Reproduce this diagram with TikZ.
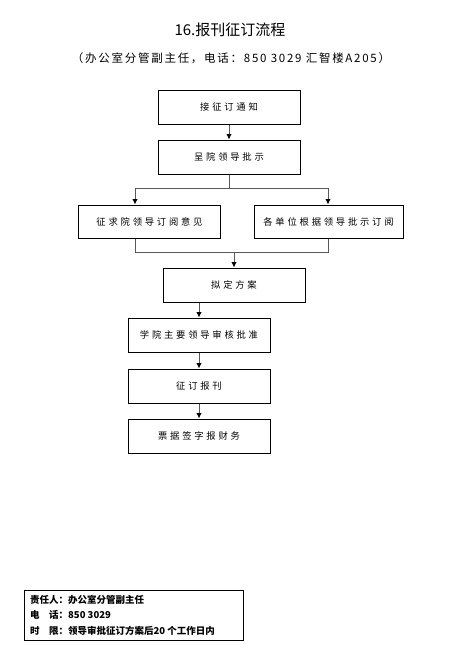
\documentclass[tikz,border=0pt]{standalone}
\usepackage{fontspec}
\usetikzlibrary{arrows.meta}
\setmainfont{Noto Sans CJK SC}
\newfontfamily\boxfont[LetterSpace=30]{Noto Sans CJK SC}
\newfontfamily\subfont[LetterSpace=15]{Noto Sans CJK SC}
\tikzset{
  stepbox/.style={draw, line width=1pt, minimum width=142pt, minimum height=34pt,
    inner sep=2pt, font=\boxfont\fontsize{9.3}{11}\selectfont},
  link/.style={line width=1pt, draw=black!65, -{Latex[length=5.5pt,width=5.5pt,black]}},
  line/.style={line width=1pt, draw=black!65},
  infotext/.style={anchor=west, inner sep=0pt, font=\bfseries\fontsize{9.5}{11}\selectfont},
}
\begin{document}
\begin{tikzpicture}[x=1pt, y=-1pt]
  \useasboundingbox (0,0) rectangle (462,649);
  % title
  \node[font=\fontsize{15}{17}\selectfont] (title) at (230,30) {16.报刊征订流程};
  \node[font=\subfont\fontsize{11.5}{13}\selectfont] (sub) at (231,58)
    {（办公室分管副主任，电话：850 3029 汇智楼A205）};
  % steps
  \node[stepbox] (b1) at (229,107) {接征订通知};
  \node[stepbox] (b2) at (229,157) {呈院领导批示};
  \node[stepbox, minimum height=33pt] (b3) at (149.5,221.5) {征求院领导订阅意见};
  \node[stepbox, minimum height=33pt, minimum width=149pt] (b4) at (328.5,221.5) {各单位根据领导批示订阅};
  \node[stepbox] (b5) at (234,285) {拟定方案};
  \node[stepbox] (b6) at (199,335) {学院主要领导审核批准};
  \node[stepbox] (b7) at (199,386) {征订报刊};
  \node[stepbox] (b8) at (199,436) {票据签字报财务};
  % branch and merge points
  \coordinate (sl) at (135,188);
  \coordinate (sr) at (328,188);
  \coordinate (ml) at (135,252);
  \coordinate (mr) at (328,252);
  % connectors
  \draw[link] (b1) -- (b2);
  \draw[line] (b2.south) -- (b2.south |- sl);
  \draw[line] (sl) -- (sr);
  \draw[link] (sl) -- (sl |- b3.north);
  \draw[link] (sr) -- (sr |- b4.north);
  \draw[line] (sl |- b3.south) -- (ml) -- (mr) -- (sr |- b4.south);
  \draw[link] (b5.north |- ml) -- (b5.north);
  \draw[link] (b5.south -| b6.north) -- (b6.north);
  \draw[link] (b6) -- (b7);
  \draw[link] (b7) -- (b8);
  % info box
  \draw[line width=1pt] (24,590) rectangle (243,640);
  \node[infotext] (duty) at (30,600) {责任人：办公室分管副主任};
  \node[infotext] (tel) at (30,615) {电\hspace{1em}话：850 3029};
  \node[infotext] (time) at (30,631) {时\hspace{1em}限：领导审批征订方案后20 个工作日内};
\end{tikzpicture}
\end{document}
